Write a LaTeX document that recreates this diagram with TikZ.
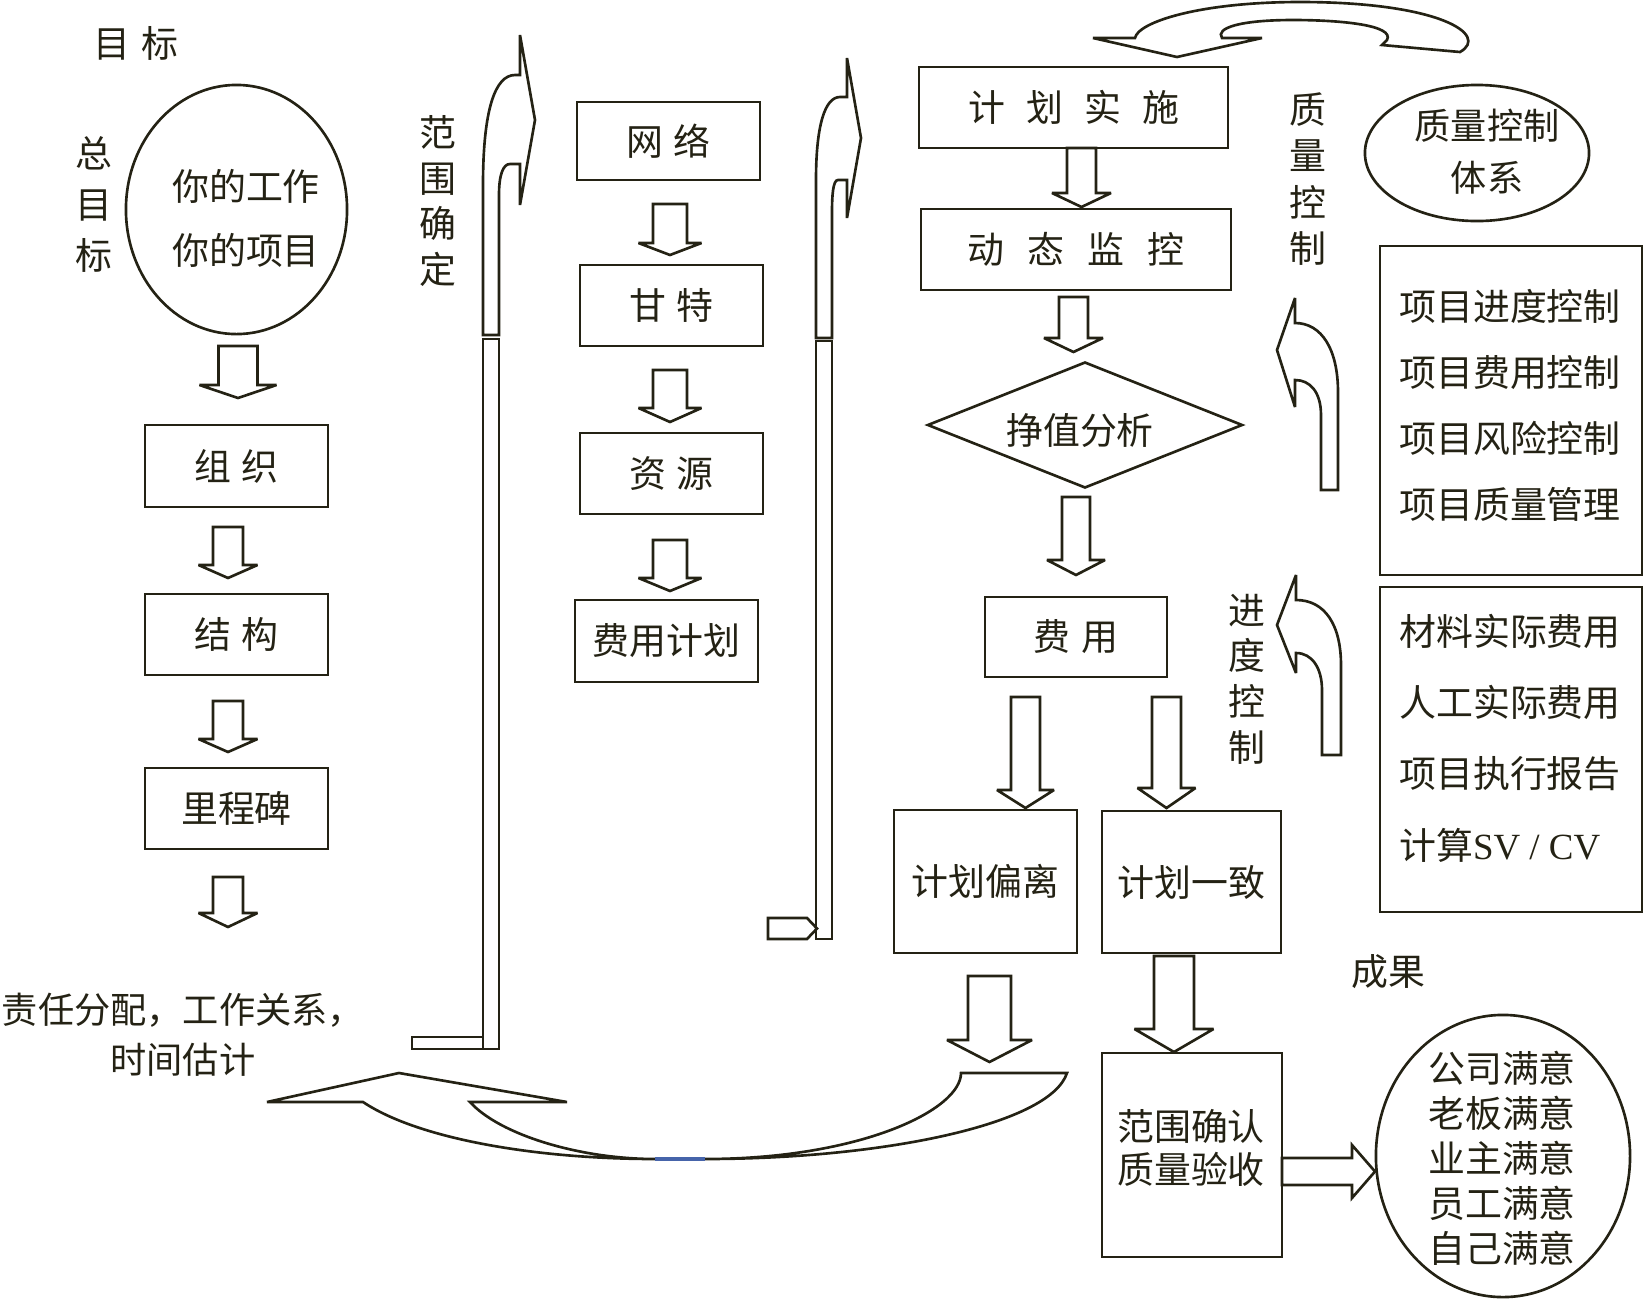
\documentclass[tikz,border=0pt]{standalone}
\usepackage{fontspec}
\setmainfont{Noto Sans CJK SC}
\newfontfamily\latfont{Liberation Serif}
\usetikzlibrary{shapes.geometric}
\definecolor{ink}{RGB}{36,34,20}
\definecolor{seam}{RGB}{70,100,170}
\newcommand\myfs{\fontsize{10.5pt}{13pt}\selectfont}
% down block arrow: {cx}{top}{tip}{head base}{shaft half width}{head half width}
\newcommand\DArr[6]{\draw[blk] (#1-#5,#2) -- (#1+#5,#2) -- (#1+#5,#4) -- (#1+#6,#4) -- (#1,#3) -- (#1-#6,#4) -- (#1-#5,#4) -- cycle;}
\begin{document}
\begin{tikzpicture}[x=0.01cm,y=-0.01cm,
  box/.style={draw=ink, line width=0.75pt, text=ink, inner sep=0pt, font=\myfs},
  shp/.style={draw=ink, line width=0.75pt, inner sep=0pt},
  blk/.style={draw=ink, fill=white, line width=0.75pt, line join=miter, miter limit=3},
  txt/.style={text=ink, inner sep=0pt, align=center, font=\myfs}]
\useasboundingbox (0,0) rectangle (1644,1299);

% ---------------- left column ----------------
\node[txt] (mubiao) at (136,43) {目\hspace{3pt}标};
\node[shp, ellipse, minimum width=2.21cm, minimum height=2.49cm] (goal) at (236.5,209.5) {};
\node[txt, font=\fontsize{10.5pt}{18pt}\selectfont] (goaltxt) at (246,218.5) {你的工作\\你的项目};
\node[txt, font=\fontsize{10.5pt}{14.5pt}\selectfont] (zmb) at (94,204) {总\\目\\标};

\node[box, minimum width=1.83cm, minimum height=0.82cm] (zuzhi) at (236.5,466) {组\hspace{3pt}织};
\node[box, minimum width=1.83cm, minimum height=0.81cm] (jiegou) at (236.5,634.5) {结\hspace{3pt}构};
\node[box, minimum width=1.83cm, minimum height=0.81cm] (lcb) at (236.5,808.5) {里程碑};
\node[txt, font=\fontsize{10.3pt}{14.2pt}\selectfont] (resp) at (183,1035) {责任分配，工作关系，\\时间估计};

\DArr{238}{346}{398}{385}{19.5}{38.5}
\DArr{228}{527}{578}{565}{15}{29.5}
\DArr{228}{701}{752}{739}{15}{29.5}
\DArr{228}{877}{927}{913}{15}{29.5}

% ---------------- left tall arrow ----------------
\draw[blk] (483,335) -- (483,185) .. controls (483,110) and (495,75) .. (515,75) -- (520,75) -- (520,35) -- (535,120) -- (520,205) -- (520,164) -- (510,164) .. controls (503,164) and (499,175) .. (499,195) -- (499,335) -- cycle;
\draw[blk] (483,339) rectangle (499,1049);
\draw[blk] (412,1037) rectangle (483,1049);
\node[txt, font=\fontsize{10.5pt}{13pt}\selectfont] (fwqd) at (438,201) {范\\围\\确\\定};

% ---------------- middle column ----------------
\node[box, minimum width=1.83cm, minimum height=0.78cm] (wl) at (668.5,141) {网\hspace{3pt}络};
\node[box, minimum width=1.83cm, minimum height=0.81cm] (gt) at (671.5,305.5) {甘\hspace{3pt}特};
\node[box, minimum width=1.83cm, minimum height=0.81cm] (zy) at (671.5,473.5) {资\hspace{3pt}源};
\node[box, minimum width=1.83cm, minimum height=0.82cm] (fyjh) at (666.5,641) {费用计划};
\DArr{670}{204}{255}{243}{17}{31.5}
\DArr{670}{370}{422}{408}{17}{31.5}
\DArr{670}{540}{591}{578}{17}{31.5}

% ---------------- right tall arrow ----------------
\draw[blk] (816,338) -- (816,180) .. controls (816,125) and (825,97) .. (840,97) -- (847,97) -- (847,58) -- (861,138) -- (847,218) -- (847,180) -- (838,180) .. controls (833,180) and (832,195) .. (832,213) -- (832,338) -- cycle;
\draw[blk] (816,341) rectangle (832,939);
\draw[blk] (768,918) -- (807,918) -- (817,928.5) -- (807,939) -- (768,939) -- cycle;

% ---------------- top curved arrow ----------------
\draw[blk] (1093,38) -- (1135,38) .. controls (1138,22) and (1200,2) .. (1300,2) .. controls (1440,2) and (1490,35) .. (1460,52) -- (1382,45) -- (1387,40) .. controls (1395,25) and (1340,20) .. (1293,20) .. controls (1240,20) and (1215,28) .. (1222,38) -- (1262,38) -- (1177,57) -- cycle;

% ---------------- right flow ----------------
\node[box, minimum width=3.09cm, minimum height=0.81cm] (jhss) at (1073.5,107.5) {计\hspace{6pt}划\hspace{6pt}实\hspace{6pt}施};
\node[box, minimum width=3.10cm, minimum height=0.81cm] (dtjk) at (1076,249.5) {动\hspace{6.5pt}态\hspace{6.5pt}监\hspace{6.5pt}控};
\node[box, diamond, minimum width=3.15cm, minimum height=1.26cm] (jz) at (1085,425) {};
\node[txt] (jztxt) at (1080,430) {挣值分析};
\node[box, minimum width=1.82cm, minimum height=0.80cm] (fy) at (1076,637) {费\hspace{3pt}用};
\node[box, minimum width=1.83cm, minimum height=1.43cm] (jhpl) at (985.5,881.5) {计划偏离};
\node[box, minimum width=1.79cm, minimum height=1.42cm] (jhyz) at (1191.5,882) {计划一致};
\node[box, minimum width=1.80cm, minimum height=2.04cm] (fwqr) at (1192,1155) {};
\node[txt, font=\fontsize{10.5pt}{12.3pt}\selectfont] (fwqrtxt) at (1191,1148) {范围确认\\质量验收};

\DArr{1081.5}{148}{207}{193}{14.5}{29.5}
\DArr{1073.5}{297}{352}{338}{14.5}{29.5}
\DArr{1076}{497}{575}{560}{14}{29}
\DArr{1025.5}{697}{808}{790}{14.5}{28.5}
\DArr{1166.5}{697}{808}{788}{14.5}{29}
\DArr{989.5}{976}{1062}{1040}{21.5}{42.5}
\DArr{1174}{956}{1052}{1029}{20}{39.5}
\draw[blk] (1282,1158) -- (1352,1158) -- (1352,1145) -- (1375,1171.5) -- (1352,1198) -- (1352,1185) -- (1282,1185) -- cycle;

% ---------------- bottom curved arrow ----------------
\draw[blk] (267,1102) -- (363,1102) .. controls (420,1140) and (540,1159) .. (655,1159) -- (705,1159) .. controls (880,1159) and (1050,1125) .. (1067,1073) -- (961,1073) .. controls (961,1110) and (860,1159) .. (705,1159) -- (655,1159) .. controls (580,1159) and (500,1135) .. (470,1102) -- (567,1102) -- (399,1073) -- cycle;
\draw[seam, line width=1pt] (655,1159) -- (705,1159);

% ---------------- results ----------------
\node[txt] (cg) at (1388,972) {成果};
\node[shp, ellipse, minimum width=2.54cm, minimum height=2.82cm] (myd) at (1503,1156) {};
\node[txt, font=\fontsize{10.5pt}{12.8pt}\selectfont] (mydtxt) at (1502,1158) {公司满意\\老板满意\\业主满意\\员工满意\\自己满意};

% ---------------- right side ----------------
\node[shp, ellipse, minimum width=2.24cm, minimum height=1.36cm] (qcs) at (1477,153) {};
\node[txt, font=\fontsize{10.3pt}{14.8pt}\selectfont] (qcstxt) at (1487,152) {质量控制\\体系};
\node[txt, font=\fontsize{10.5pt}{13.1pt}\selectfont] (zlkz) at (1308,179) {质\\量\\控\\制};
\node[txt, font=\fontsize{10.5pt}{13pt}\selectfont] (jdkz) at (1247,679) {进\\度\\控\\制};

\draw[blk] (1321,490) -- (1321,415) .. controls (1321,392) and (1310,380) .. (1295,380) -- (1295,407) -- (1277,350) -- (1295,298) -- (1295,323) .. controls (1322,323) and (1338,350) .. (1338,392) -- (1338,490) -- cycle;
\draw[blk] (1322,755) -- (1322,690) .. controls (1322,668) and (1312,653) .. (1296,653) -- (1296,673) -- (1277,625) -- (1296,575) -- (1296,600) .. controls (1325,600) and (1341,625) .. (1341,665) -- (1341,755) -- cycle;

\node[shp, minimum width=2.62cm, minimum height=3.29cm] (b1) at (1511,410.5) {};
\node[txt, align=left, font=\fontsize{10.5pt}{18.7pt}\selectfont] (b1txt) at (1510,405.5) {项目进度控制\\项目费用控制\\项目风险控制\\项目质量管理};
\node[shp, minimum width=2.62cm, minimum height=3.25cm] (b2) at (1511,749.5) {};
\node[txt, align=left, font=\fontsize{10.5pt}{20.3pt}\selectfont] (b2txt) at (1510,738) {材料实际费用\\人工实际费用\\项目执行报告\\计算{\latfont SV / CV}};
\end{tikzpicture}
\end{document}
